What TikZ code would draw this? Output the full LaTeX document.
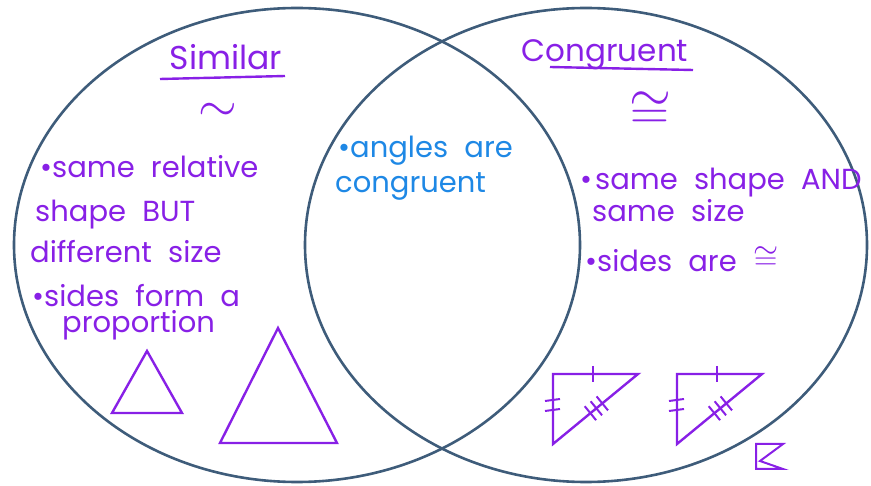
\documentclass[tikz,border=0pt]{standalone}
\usepackage{fontspec}
\setmainfont{Poppins}
\newfontfamily\handfont[WordSpace=2.1]{Poppins}
\usetikzlibrary{positioning,calc,shapes.geometric}
\definecolor{ringblue}{RGB}{62,92,122}
\definecolor{penpurple}{RGB}{136,32,230}
\definecolor{penblue}{RGB}{30,136,229}
\tikzset{
  ring/.style={draw=ringblue,ellipse,line width=2.6pt,inner sep=0pt},
  ink/.style={text=penpurple,font=\handfont\fontsize{29}{34}\selectfont,anchor=base west,inner sep=0pt},
  bink/.style={ink,text=penblue},
  head/.style={ink,anchor=base,font=\fontsize{33}{36}\selectfont},
  sym/.style={ink,anchor=center,font=\fontsize{20}{20}\selectfont},
  pen/.style={draw=penpurple,line width=2.4pt,line join=miter},
  tick/.style={draw=penpurple,line width=2pt}
}

\begin{document}
\begin{tikzpicture}[x=1pt,y=-1pt]
  \useasboundingbox (0,0) rectangle (871,486);
  % Venn rings
  \node[ring, minimum width=566pt, minimum height=474pt] (simring) at (297,245) {};
  \node[ring, minimum width=562pt, minimum height=474pt] (conring) at (586,245) {};

  % Similar side
  \node[head] (simT) at (226,70) {Similar};
  \draw[pen] (160,79) -- (285,76);
  \node[sym] (simS) at (218,112) {\scalebox{2.4}{$\sim$}};
  \node[ink] (simA) at (40,178) {•same relative};
  \node[ink] (simB) at (35,222) {shape BUT};
  \node[ink] (simC) at (30,263) {different size};
  \node[ink] (simD) at (32,307) {•sides form a};
  \node[ink] (simE) at (62,333) {proportion};

  % Similar triangles
  \draw[pen] (147,351) -- (112,413) -- (182,413) -- cycle;
  \draw[pen] (278,328) -- (220,443) -- (337,443) -- cycle;

  % Shared middle
  \node[bink] (midA) at (338,158) {•angles are};
  \node[bink] (midB) at (335,193) {congruent};

  % Congruent side
  \node[head, font=\fontsize{31}{34}\selectfont] (conT) at (605,62) {Congruent};
  \draw[pen] (550,67) -- (693,70);
  \node[sym] (conS) at (650,111) {\scalebox{2.6}{$\cong$}};
  \node[ink] (conA) at (580,190) {•\kern3pt same shape AND};
  \node[ink] (conB) at (592,222) {same size};
  \node[ink] (conC) at (585,272) {•sides are \raisebox{3pt}{\scalebox{1.3}{$\cong$}}};

  % Congruent right triangles
  \foreach \ox in {553,677} {
    \coordinate (tl) at (\ox,374);
    \coordinate (tr) at (\ox+85,374);
    \coordinate (bt) at (\ox,444);
    \draw[pen] (tl) -- (tr) -- (bt) -- cycle;
    \draw[tick] (\ox+40,366) -- (\ox+40,382);
    \foreach \y in {400,410} \draw[tick] (\ox-8,\y+1) -- (\ox+7,\y-1);
    \foreach \t in {0.42,0.49,0.56}
      \draw[tick] ($(tr)!\t!(bt)+(-5.7,-7)$) -- ($(tr)!\t!(bt)+(5.7,7)$);
  }

  % Corner mark
  \draw[pen, line width=2pt] (783,444) -- (756,444) -- (756,469) -- (783,469) -- (760,461) -- cycle;
\end{tikzpicture}
\end{document}
